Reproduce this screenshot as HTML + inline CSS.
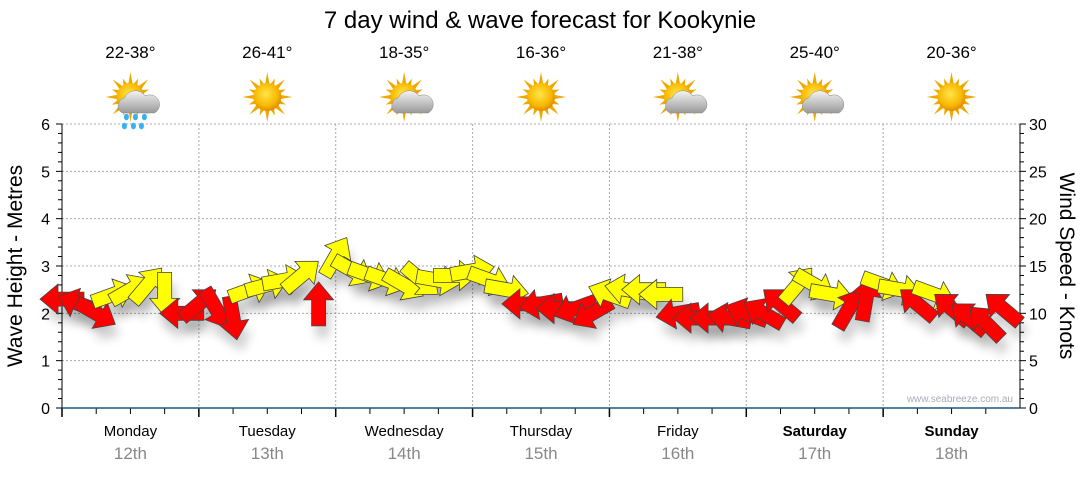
<!DOCTYPE html>
<html><head><meta charset="utf-8"><style>
body{margin:0;background:#fff;width:1080px;height:475px;overflow:hidden;font-family:"Liberation Sans",sans-serif}
</style></head><body>
<svg id="chart" width="1080" height="475" xmlns="http://www.w3.org/2000/svg" font-family="Liberation Sans, sans-serif">
<defs>
<filter id="sh" x="-50%" y="-50%" width="200%" height="200%"><feGaussianBlur stdDeviation="5"/></filter>
<radialGradient id="sun" cx="45%" cy="40%" r="60%"><stop offset="0" stop-color="#ffe54a"/><stop offset="0.7" stop-color="#f8b800"/><stop offset="1" stop-color="#e08a00"/></radialGradient>
<linearGradient id="cloud" x1="0" y1="0" x2="0" y2="1"><stop offset="0" stop-color="#f4f4f4"/><stop offset="1" stop-color="#999"/></linearGradient>
</defs>
<text x="540" y="28" font-size="24" text-anchor="middle" fill="#000">7 day wind &amp; wave forecast for Kookynie</text>
<g id="grid"></g>
<g id="axes"></g>
<g id="icons"></g>
<g id="arrows"></g>
<text transform="translate(22,266) rotate(-90)" font-size="21" text-anchor="middle">Wave Height - Metres</text>
<text transform="translate(1060,266) rotate(90)" font-size="21" text-anchor="middle">Wind Speed - Knots</text>
<text x="1013" y="402" font-size="10" fill="#aab" text-anchor="end">www.seabreeze.com.au</text>
</svg>
<script>
const days=["Monday","Tuesday","Wednesday","Thursday","Friday","Saturday","Sunday"];
const dates=["12th","13th","14th","15th","16th","17th","18th"];
const temps=["22-38°","26-41°","18-35°","16-36°","21-38°","25-40°","20-36°"];
const iconTypes=["rain","sun","cloud","sun","cloud","cloud","sun"];
const waveTicks=[0,1,2,3,4,5,6];
const windTicks=[0,5,10,15,20,25,30];
const windHours=[0,3,6,9,12,15,18,21,24,27,30,33,36,39,42,45,48,51,54,57,60,63,66,69,72,75,78,81,84,87,90,93,96,99,102,105,108,111,114,117,120,123,126,129,132,135,138,141,144,147,150,153,156,159,162,165];
const windSpeed=[11.5,11,10,12,12.5,13,12,10,11,10.5,9.5,12.5,13,13.5,14,11,16,14.5,14,13.5,13,13.5,13.5,14,14.5,13.5,12.5,11,11,10.5,10.5,10,12,12.5,12.5,12,10,9.5,9.5,9.5,10,10,11,13,13,12,10.5,11.5,13,12.5,11,12,10.5,9.5,9,10.5];
const windDir=[180,200,30,-20,-30,-50,90,180,-40,60,80,-20,-15,-10,-40,-90,-60,30,20,20,30,40,10,0,-10,20,10,180,170,180,160,150,200,190,180,180,170,180,180,190,200,210,220,-50,30,10,-60,-80,20,10,-140,20,-140,-140,-135,-140];
const windColor=["r","r","r","y","y","y","y","r","r","r","r","y","y","y","y","r","y","y","y","y","y","y","y","y","y","y","y","r","r","r","r","r","y","y","y","y","r","r","r","r","r","r","r","y","y","y","r","r","y","y","r","y","r","r","r","r"];
const NS="http://www.w3.org/2000/svg";
const X0=62,X1=1020,Y0=408,Y1=124;
const xH=h=>X0+h/168*(X1-X0);
const yW=m=>Y0-m/6*(Y0-Y1);
const yK=k=>Y0-k/30*(Y0-Y1);
function mk(tag,attrs,parent){const e=document.createElementNS(NS,tag);for(const k in attrs)e.setAttribute(k,attrs[k]);parent.appendChild(e);return e;}
const grid=document.getElementById('grid'),axes=document.getElementById('axes'),icons=document.getElementById('icons'),arrows=document.getElementById('arrows');
waveTicks.forEach(m=>{if(m>0){const l=mk('line',{x1:X0,x2:X1,y1:yW(m),y2:yW(m),stroke:'#aaa','stroke-dasharray':'2,2'},grid);}
 const t=mk('text',{x:50,y:yW(m)+6,'font-size':16,'text-anchor':'end'},axes);t.textContent=m;});
windTicks.forEach(k=>{const t=mk('text',{x:1029,y:yK(k)+6,'font-size':16},axes);t.textContent=k;});
for(let i=0;i<=30;i++){const y=yK(i);const len=i%5==0?6:4;mk('line',{x1:X0-len,x2:X0,y1:y,y2:y,stroke:'#000'},axes);mk('line',{x1:X1,x2:X1+len,y1:y,y2:y,stroke:'#000'},axes);}
mk('line',{x1:X0,x2:X0,y1:Y1,y2:Y0,stroke:'#000'},axes);
mk('line',{x1:X1,x2:X1,y1:Y1,y2:Y0,stroke:'#000'},axes);
days.forEach((d,i)=>{const xb=xH(i*24);
 if(i>0){const l=mk('line',{x1:xb,x2:xb,y1:Y1,y2:Y0,stroke:'#aaa','stroke-dasharray':'2,2'},grid);}
 for(let q=0;q<4;q++){const x=xH(i*24+q*6);mk('line',{x1:x,x2:x,y1:Y0,y2:Y0+(q==0?9:6),stroke:'#000','stroke-width':q==0?1.5:1},axes);}
 const cx=xH(i*24+12);const bold=i>=5?'bold':'normal';
 const a=mk('text',{x:cx,y:436,'font-size':15,'text-anchor':'middle','font-weight':bold},axes);a.textContent=d;
 const b=mk('text',{x:cx,y:459,'font-size':17,'text-anchor':'middle',fill:'#888'},axes);b.textContent=dates[i];
 const t=mk('text',{x:cx,y:58,'font-size':17,'text-anchor':'middle'},icons);t.textContent=temps[i];
 const g=mk('g',{transform:`translate(${cx},97)`},icons);
 for(let r=0;r<16;r++){const ang=r*Math.PI/8;const L=r%2?20:25;const p=[[Math.cos(ang)*L,Math.sin(ang)*L],[Math.cos(ang+0.2)*12,Math.sin(ang+0.2)*12],[Math.cos(ang-0.2)*12,Math.sin(ang-0.2)*12]];mk('polygon',{points:p.map(v=>v.join(',')).join(' '),fill:'#f0a800'},g);}
 mk('circle',{cx:0,cy:0,r:14,fill:'url(#sun)'},g);
 if(iconTypes[i]!='sun'){mk('path',{d:'M-8,16 a8,8 0 0 1 2,-15 a12,12 0 0 1 21,-2 a9,9 0 0 1 9,17 z',fill:'url(#cloud)',stroke:'#888','stroke-width':0.5},g);}
 if(iconTypes[i]=='rain'){[[-4,20],[5,20],[14,20],[-6,29],[3,29],[11,29]].forEach(p=>mk('ellipse',{cx:p[0],cy:p[1],rx:2.5,ry:3.3,fill:'#3ab0ee'},g));}
});
mk('line',{x1:X0,x2:X1,y1:Y0,y2:Y0,stroke:'#1a5580','stroke-width':1.5},axes);
const shape="-22,-7 4,-7 4,-15 22,0 4,15 4,7 -22,7";
windHours.forEach((h,i)=>{const x=xH(h),y=yK(windSpeed[i]);
 const s=mk('polygon',{points:shape,fill:'#000',opacity:0.18,filter:'url(#sh)',transform:`translate(${x+4},${y+12}) rotate(${windDir[i]})`},arrows);
 });
windHours.forEach((h,i)=>{const x=xH(h),y=yK(windSpeed[i]);
 const p=mk('polygon',{points:shape,fill:windColor[i]=='r'?'#ff0000':'#ffff00',stroke:'#444','stroke-width':0.8,transform:`translate(${x},${y}) rotate(${windDir[i]})`},arrows);
 });
</script>
</body></html>
